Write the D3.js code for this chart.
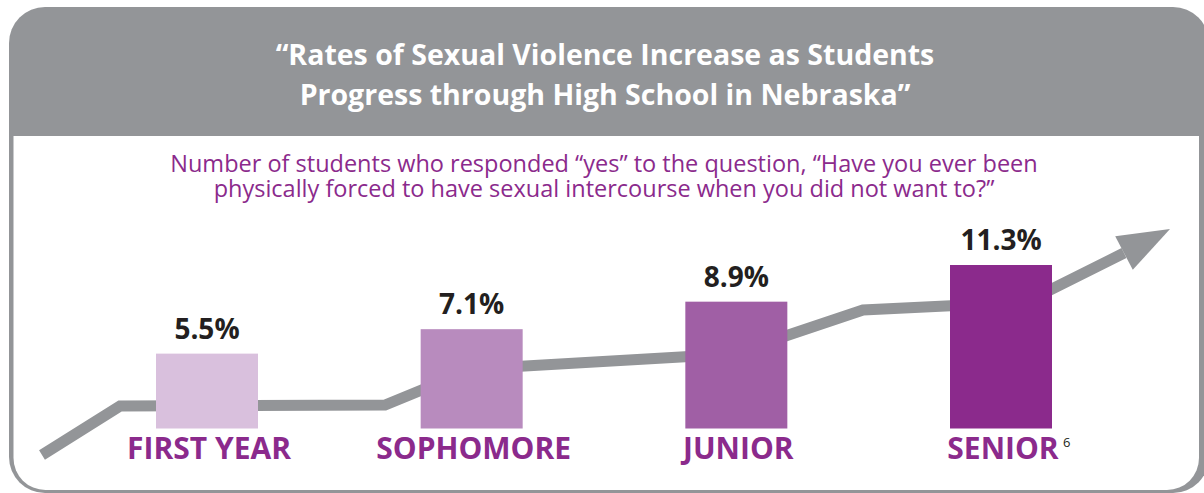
<!DOCTYPE html>
<html>
<head>
<meta charset="utf-8">
<script src="https://cdn.jsdelivr.net/npm/d3@7"></script>
<style>
  body { margin: 0; background: #fff; }
  svg text { font-family: "Open Sans", sans-serif; }
</style>
</head>
<body>
<svg id="chart" width="1204" height="493"></svg>
<script>
// DATA
var grades = ["FIRST YEAR", "SOPHOMORE", "JUNIOR", "SENIOR"];
var rates = [5.5, 7.1, 8.9, 11.3];
var valueLabels = ["5.5%", "7.1%", "8.9%", "11.3%"];
var barColors = ["#d9c0dd", "#b88bbe", "#a05fa5", "#8b2a8c"];
var titleLines = ["\u201cRates of Sexual Violence Increase as Students",
                  "Progress through High School in Nebraska\u201d"];
var subtitleLines = ["Number of students who responded \u201cyes\u201d to the question, \u201cHave you ever been",
                     "physically forced to have sexual intercourse when you did not want to?\u201d"];
var footnote = "6";

// decorative trend arrow (pixel path behind the bars)
var trendPoints = [[42, 455], [120, 406], [385, 405], [473, 369], [732, 354],
                   [863, 310], [1026, 302], [1124, 253]];
var arrowTip = [1170, 229];

var width = 1204;
var height = 493;
var svg = d3.select("#chart");
var grey = "#939598";
var purple = "#8b2a8c";

// FRAME
svg.append("rect")
  .attr("x", 9).attr("y", 7)
  .attr("width", 1200).attr("height", 486)
  .attr("rx", 36)
  .attr("fill", grey);

var ix0 = 13.5, iy0 = 136, ix1 = 1199, iy1 = 490, r = 32;
svg.append("path")
  .attr("d", "M" + ix0 + "," + iy0 + " H" + ix1 + " V" + (iy1 - r) +
    " A" + r + "," + r + " 0 0 1 " + (ix1 - r) + "," + iy1 +
    " H" + (ix0 + r) + " A" + r + "," + r + " 0 0 1 " + ix0 + "," + (iy1 - r) + " Z")
  .attr("fill", "#fff");

// TITLE
svg.selectAll(".title")
  .data(titleLines)
  .enter().append("text")
  .attr("class", "title")
  .attr("x", 605)
  .attr("y", function(d, i) { return 65 + i * 40; })
  .attr("text-anchor", "middle")
  .attr("fill", "#fff")
  .attr("font-weight", "bold")
  .attr("font-size", "28.5px")
  .text(function(d) { return d; });

// SUBTITLE
svg.selectAll(".subtitle")
  .data(subtitleLines)
  .enter().append("text")
  .attr("class", "subtitle")
  .attr("x", 604)
  .attr("y", function(d, i) { return 172 + i * 25; })
  .attr("text-anchor", "middle")
  .attr("fill", purple)
  .attr("font-size", "23.5px")
  .text(function(d) { return d; });

// SCALES
var xScale = d3.scalePoint().domain(grades).range([207, 1001]);
var yScale = d3.scaleLinear().domain([0.6, 11.3]).range([428.5, 265]);
var barW = 102;

// TREND ARROW
svg.append("path")
  .attr("d", d3.line()(trendPoints))
  .attr("fill", "none")
  .attr("stroke", grey)
  .attr("stroke-width", 11)
  .attr("stroke-linejoin", "miter");

var last = trendPoints[trendPoints.length - 1];
var dx = arrowTip[0] - last[0], dy = arrowTip[1] - last[1];
var len = Math.sqrt(dx * dx + dy * dy);
var px = -dy / len * 19, py = dx / len * 19;
svg.append("path")
  .attr("d", "M" + arrowTip + " L" + (last[0] + px) + "," + (last[1] + py) +
    " L" + (last[0] - px) + "," + (last[1] - py) + " Z")
  .attr("fill", grey);

// BARS
svg.selectAll(".bar")
  .data(rates)
  .enter().append("rect")
  .attr("class", "bar")
  .attr("x", function(d, i) { return xScale(grades[i]) - barW / 2; })
  .attr("y", function(d) { return yScale(d); })
  .attr("width", barW)
  .attr("height", function(d) { return yScale(0.6) - yScale(d); })
  .attr("fill", function(d, i) { return barColors[i]; });

// VALUE LABELS
svg.selectAll(".val")
  .data(rates)
  .enter().append("text")
  .attr("class", "val")
  .attr("x", function(d, i) { return xScale(grades[i]); })
  .attr("y", function(d) { return yScale(d) - 15; })
  .attr("text-anchor", "middle")
  .attr("fill", "#231f20")
  .attr("font-weight", "bold")
  .attr("font-size", "28px")
  .text(function(d, i) { return valueLabels[i]; });

// CATEGORY LABELS
svg.selectAll(".cat")
  .data(grades)
  .enter().append("text")
  .attr("class", "cat")
  .attr("x", function(d) { return xScale(d) + 2; })
  .attr("y", 459)
  .attr("text-anchor", "middle")
  .attr("fill", purple)
  .attr("font-weight", "bold")
  .attr("font-size", "30px")
  .text(function(d) { return d; });

// FOOTNOTE
svg.append("text")
  .attr("x", 1063)
  .attr("y", 447)
  .attr("fill", "#231f20")
  .attr("font-size", "13px")
  .text(footnote);
</script>
</body>
</html>
